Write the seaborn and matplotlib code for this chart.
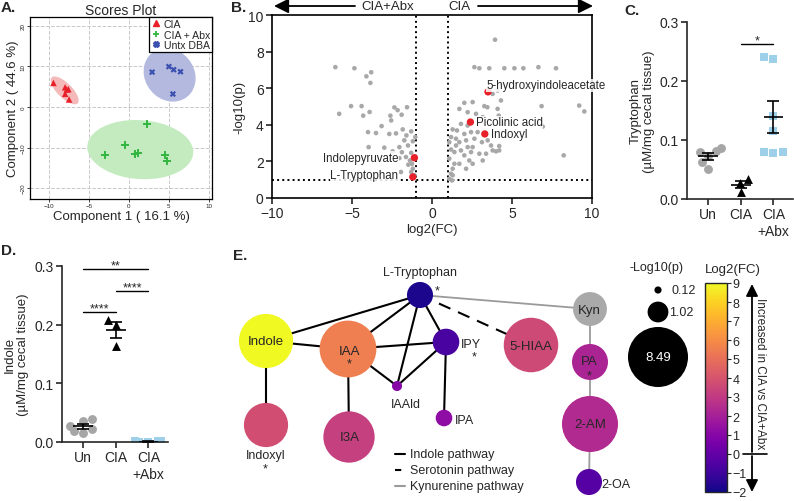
import numpy as np
import pandas as pd
import matplotlib
matplotlib.use("Agg")
import matplotlib.pyplot as plt
import seaborn as sns
from matplotlib.patches import Circle, Ellipse
from matplotlib.lines import Line2D
from matplotlib.cm import ScalarMappable
from matplotlib.colors import Normalize

# ---------------- data ----------------
# A. PCA scores
cia_x = [-9.46, -8.0, -7.79, -8.0, -7.5, -7.6]
cia_y = [5.93, 4.86, 4.3, 3.24, 1.85, 4.4]
abx_x = [2.2, -0.46, -2.96, 0.75, 1.17, 4.5, 4.7]
abx_y = [-4.28, -9.4, -11.8, -11.6, -11.3, -11.8, -13.4]
dba_x = [5.0, 5.6, 6.45, 2.9, 5.5]
dba_y = [9.96, 9.2, 8.7, 8.6, 3.2]

# B. volcano
vol_fc = [-6.04, -4.85, -4.1, -3.8, -3.85, -5.06, -4.4, -5.8, -4.3, -3.9, -2.35, -2.15,
          -2.6, -1.56, -1.9, -2.55, -3.15, -4.0, -3.5, -2.67, -2.25, -1.83, -1.6, -1.3,
          -1.04, -1.73, -1.2, -3.96, -2.98, -2.04, -1.5, -2.46, -1.88, -1.3, -1.63, -2.04,
          -1.38, -1.48, -1.25, -1.2, -1.3, -1.94, -1.1,
          3.94, 2.65, 2.96, 3.58, 4.52, 5.15, 5.71, 6.65, 7.75, 3.79, 4.1, 4.31, 3.27,
          3.46, 2.54, 2.02, 1.71, 2.23, 2.75, 3.17, 4.1, 4.17, 4.42, 6.85, 9.2, 9.52,
          6.92, 1.29, 1.19, 1.56, 2.02, 1.71, 2.13, 2.44, 2.85, 2.65, 3.12, 3.48, 3.69,
          4.2, 4.2, 3.79, 3.38, 2.96, 2.44, 2.23, 1.5, 1.08, 1.19, 1.4, 1.81, 2.02, 2.33,
          2.54, 3.17, 2.13, 1.4, 1.08, 1.29, 1.71, 1.19, 1.29, 1.08, 1.25, 8.23, 4.0,
          2.54, 1.5, 2.23, 1.81]
vol_p = [7.15, 7.09, 6.65, 6.87, 6.29, 5.02, 5.02, 4.6, 4.5, 4.7, 4.95, 4.8,
         4.5, 4.96, 4.55, 4.24, 3.93, 3.6, 3.55, 3.5, 3.53, 3.75, 3.42, 3.64,
         3.33, 3.15, 3.1, 2.78, 2.75, 2.78, 2.87, 2.55, 2.5, 2.47, 2.24, 2.18,
         2.05, 1.82, 1.87, 1.6, 1.42, 1.42, 1.24,
         8.65, 7.15, 7.09, 7.09, 7.09, 7.09, 7.09, 7.15, 7.09, 5.69, 5.87, 5.33, 5.02,
         4.96, 5.24, 5.2, 4.87, 4.69, 4.6, 4.42, 4.87, 4.5, 4.05, 5.02, 5.05, 4.73,
         3.9, 3.75, 3.33, 3.69, 3.5, 3.05, 3.15, 3.6, 3.6, 3.24, 3.05, 3.15, 2.87,
         2.84, 2.6, 2.6, 2.42, 2.42, 2.51, 2.78, 2.87, 3.05, 2.65, 2.51, 2.6, 2.33, 2.05,
         1.87, 2.05, 1.6, 1.87, 2.15, 1.6, 1.87, 1.33, 1.24, 1.05, 0.96, 2.33, 2.55,
         2.78, 3.24, 3.96, 4.05]
hl_names = ["L-Tryptophan", "Indolepyruvate", "Picolinic acid", "Indoxyl", "5-hydroxyindoleacetate"]
hl_fc = [-1.2, -1.1, 2.4, 3.3, 3.5]
hl_p = [1.15, 2.2, 4.15, 3.5, 5.8]

# C. tryptophan / D. indole (uM/mg cecal tissue)
groups = ["Un", "CIA", "CIA\n+Abx"]
trp_un = [0.086, 0.082, 0.079, 0.073, 0.062, 0.051]
trp_cia = [0.034, 0.027, 0.012]
trp_abx = [0.240, 0.238, 0.140, 0.115, 0.080, 0.080, 0.078]
ind_un = [0.040, 0.036, 0.027, 0.022, 0.016, 0.019]
ind_cia = [0.208, 0.200, 0.163]
ind_abx = [0.001, 0.0, 0.002, 0.001, 0.0, 0.001]

# E. network
net_nodes = ["L-Tryptophan", "Indole", "IAA", "IPY", "5-HIAA", "IAAld", "IPA",
             "Indoxyl", "I3A", "Kyn", "PA", "2-AM", "2-OA"]
net_log2fc = [-1.7, 9.0, 5.5, -0.7, 3.6, 1.0, 1.3, 3.8, 3.2, np.nan, 2.2, 2.4, -0.35]
net_neglogp = [1.6, 6.9, 7.6, 1.67, 7.0, 0.24, 0.65, 4.6, 6.2, 2.7, 3.05, 7.4, 1.6]
edges_indole = [("L-Tryptophan", "Indole"), ("L-Tryptophan", "IAA"), ("L-Tryptophan", "IAAld"),
                ("L-Tryptophan", "IPY"), ("Indole", "IAA"), ("Indole", "Indoxyl"),
                ("IAA", "IPY"), ("IAA", "IAAld"), ("IAA", "I3A"), ("IPY", "IAAld"),
                ("IPY", "IPA")]
edges_sero = [("L-Tryptophan", "5-HIAA")]
edges_kyn = [("L-Tryptophan", "Kyn"), ("Kyn", "PA"), ("PA", "2-AM"), ("2-AM", "2-OA")]
size_legend = [0.12, 1.02, 8.49]

# ---------------- figure ----------------
sns.set_style("ticks")
plt.rcParams["font.family"] = ["Liberation Sans", "DejaVu Sans"]
W, H = 794, 502
fig = plt.figure(figsize=(W / 100, H / 100), dpi=100)


def px_axes(l, t, r, b):
    return fig.add_axes([l / W, 1 - b / H, (r - l) / W, (b - t) / H])


# ---- A. Scores plot
axA = px_axes(30, 18, 212, 200)


def conf_ellipse(ax, xs, ys, color):
    cov = np.cov(xs, ys)
    vals, vecs = np.linalg.eigh(cov)
    order = vals.argsort()[::-1]
    vals, vecs = vals[order], vecs[:, order]
    angle = np.degrees(np.arctan2(vecs[1, 0], vecs[0, 0]))
    w, h = 2 * np.sqrt(vals * 5.991)
    ax.add_patch(Ellipse((np.mean(xs), np.mean(ys)), w, h, angle=angle,
                         facecolor=color, edgecolor="none", zorder=1))


conf_ellipse(axA, cia_x, cia_y, "#f6b9b9")
conf_ellipse(axA, abx_x, abx_y, "#c4ebc0")
conf_ellipse(axA, dba_x, dba_y, "#b4badf")
sns.scatterplot(x=cia_x, y=cia_y, marker="^", color="#e8202a", s=22, edgecolor="none", ax=axA, zorder=3)
sns.scatterplot(x=abx_x, y=abx_y, marker="+", color="#33b540", s=30, linewidth=1.4, ax=axA, zorder=3)
sns.scatterplot(x=dba_x, y=dba_y, marker="X", color="#3b4fb0", s=20, edgecolor="none", ax=axA, zorder=3)
axA.set_xlim(-12.4, 10.4)
axA.set_ylim(-22.7, 22.2)
axA.set_xticks([-10, -5, 0, 5, 10])
axA.set_yticks([-20, -10, 0, 10, 20])
axA.grid(True, ls="--", color="#c8c8c8", lw=0.7)
axA.tick_params(labelsize=4.5, length=2, width=0.6, pad=1)
for lab in axA.get_yticklabels():
    lab.set_rotation(90)
    lab.set_va("center")
for s in axA.spines.values():
    s.set_linewidth(0.9)
    s.set_color("black")
axA.set_title("Scores Plot", fontsize=10, pad=1.5)
axA.set_xlabel("Component 1 ( 16.1 %)", fontsize=9.5, labelpad=1)
axA.set_ylabel("Component 2 ( 44.6 %)", fontsize=9.5, labelpad=1)
handles = [Line2D([], [], marker="^", color="#e8202a", ls="none", ms=4),
           Line2D([], [], marker="+", color="#33b540", ls="none", ms=5, mew=1.3),
           Line2D([], [], marker="X", color="#3b4fb0", ls="none", ms=4)]
lg = axA.legend(handles, ["CIA", "CIA + Abx", "Untx DBA"], loc="upper right", fontsize=7.6,
                frameon=True, fancybox=False, edgecolor="black", borderaxespad=0,
                handletextpad=0.2, borderpad=0.2, labelspacing=0.05, handlelength=1)
lg.get_frame().set_linewidth(0.9)
lg.get_frame().set_alpha(1)

# ---- B. Volcano
axB = px_axes(272, 16, 592, 199)
sns.scatterplot(x=vol_fc, y=vol_p, color="#a8a8a8", s=11, edgecolor="none", ax=axB, zorder=2)
sns.scatterplot(x=hl_fc, y=hl_p, color="#e8202a", s=28, edgecolor="none", ax=axB, zorder=3)
for xv in (-1, 1):
    axB.axvline(xv, ls=":", color="black", lw=1.4, zorder=1)
axB.axhline(1, ls=":", color="black", lw=1.4, zorder=1)
axB.set_xlim(-10, 10)
axB.set_ylim(0, 10)
axB.set_xticks([-10, -5, 0, 5, 10])
axB.set_yticks([0, 2, 4, 6, 8, 10])
axB.tick_params(labelsize=10, length=4, width=1.2, pad=2)
for s in axB.spines.values():
    s.set_linewidth(1.2)
    s.set_color("black")
axB.set_xlabel("log2(FC)", fontsize=9.5, labelpad=2)
axB.set_ylabel("-log10(p)", fontsize=9.5, labelpad=2)
label_style = {"L-Tryptophan": (-2.1, 1.27, "right"), "Indolepyruvate": (-2.1, 2.2, "right"),
               "Picolinic acid": (2.75, 4.15, "left"), "Indoxyl": (3.7, 3.5, "left"),
               "5-hydroxyindoleacetate": (3.4, 6.15, "left")}
for name in hl_names:
    tx, ty, ha = label_style[name]
    axB.text(tx, ty, name, fontsize=8.3, ha=ha, va="center", clip_on=False,
             bbox=dict(facecolor="white", edgecolor="none", pad=0.3, alpha=0.85), zorder=4)


# ---- C & D dot plots
def dot_panel(ax, vals, ylabel, ylpad):
    df = pd.concat([pd.DataFrame({"group": g, "val": v}) for g, v in zip(groups, vals)])
    styles = [("o", "#a6a6a6"), ("^", "black"), ("s", "#9fd0ea")]
    for g, (m, c) in zip(groups, styles):
        sns.swarmplot(data=df[df.group == g], x="group", y="val", order=groups,
                      marker=m, color=c, size=6.4, ax=ax, zorder=2, warn_thresh=1)
    for i, v in enumerate(vals):
        mean = np.mean(v)
        sem = np.std(v, ddof=1) / np.sqrt(len(v))
        ax.hlines(mean, i - 0.3, i + 0.3, color="black", lw=1.2, zorder=3)
        ax.errorbar(i, mean, yerr=sem, color="black", lw=1.2, capsize=4, capthick=1.2, zorder=3)
    sns.despine(ax=ax)
    for s in ax.spines.values():
        s.set_linewidth(1.2)
    ax.set_xlim(-0.65, 2.6)
    ax.set_ylim(0, 0.3)
    ax.set_yticks([0, 0.1, 0.2, 0.3])
    ax.set_yticklabels(["0.0", "0.1", "0.2", "0.3"])
    ax.set_xticks(range(3))
    ax.set_xticklabels(groups)
    ax.tick_params(labelsize=10, length=4, width=1.2, pad=2)
    ax.set_xlabel("")
    ax.set_ylabel(ylabel, fontsize=9.5, labelpad=ylpad, linespacing=1.15)


def sig_bar(ax, x1, x2, y, txt):
    ax.plot([x1, x2], [y, y], color="black", lw=1.0, clip_on=False)
    ax.text((x1 + x2) / 2, y - 0.004, txt, ha="center", va="bottom", fontsize=9, clip_on=False)


axC = px_axes(687, 23, 793, 200)
dot_panel(axC, [trp_un, trp_cia, trp_abx], "Tryptophan\n(µM/mg cecal tissue)", 3)
sig_bar(axC, 1, 2, 0.262, "*")

axD = px_axes(62, 267, 168, 443)
dot_panel(axD, [ind_un, ind_cia, ind_abx], "Indole\n(µM/mg cecal tissue)", 4)
sig_bar(axD, 0, 1, 0.222, "****")
sig_bar(axD, 1, 2, 0.258, "****")
sig_bar(axD, 0, 2, 0.295, "**")

# ---- overlay in pixel coordinates (E + annotations)
ov = fig.add_axes([0, 0, 1, 1])
ov.set_xlim(0, W)
ov.set_ylim(H, 0)
ov.axis("off")

# volcano direction arrows
arrow = dict(arrowstyle="-|>", color="black", lw=1.3, mutation_scale=22, shrinkA=0, shrinkB=0)
ov.annotate("", xy=(274, 7), xytext=(355, 7), arrowprops=arrow)
ov.annotate("", xy=(593, 7), xytext=(478, 7), arrowprops=arrow)
ov.text(388, 7.5, "CIA+Abx", fontsize=9.5, ha="center", va="center",
        bbox=dict(facecolor="white", edgecolor="none", pad=0.5))
ov.text(459, 7.5, "CIA", fontsize=9.5, ha="center", va="center",
        bbox=dict(facecolor="white", edgecolor="none", pad=0.5))

# panel letters
for lt, (x, y) in {"A.": (1, 8), "B.": (231, 8), "C.": (624, 11), "D.": (1, 251), "E.": (233, 256)}.items():
    ov.text(x, y, lt, fontsize=11, fontweight="bold", ha="left", va="center")

# network
pos = {"L-Tryptophan": (420, 296), "Indole": (266, 342), "IAA": (348, 350), "IPY": (446, 343),
       "5-HIAA": (531, 346), "IAAld": (397, 387), "IPA": (444, 419), "Indoxyl": (266, 426),
       "I3A": (349, 438), "Kyn": (590, 310), "PA": (590, 363), "2-AM": (590, 425), "2-OA": (589, 483)}
cmap = plt.get_cmap("plasma")
norm = Normalize(-2, 9)
rscale = 10.3

for a, b in edges_indole:
    ov.plot(*zip(pos[a], pos[b]), color="black", lw=1.5, zorder=1)
for a, b in edges_sero:
    ov.plot(*zip(pos[a], pos[b]), color="black", lw=1.5, ls=(0, (6, 4)), zorder=1)
for a, b in edges_kyn:
    ov.plot(*zip(pos[a], pos[b]), color="#9a9a9a", lw=1.3, zorder=1)

for name, fc, p in zip(net_nodes, net_log2fc, net_neglogp):
    col = "#a9a9a9" if np.isnan(fc) else cmap(norm(fc))
    ov.add_patch(Circle(pos[name], rscale * np.sqrt(p), facecolor=col, edgecolor="none", zorder=2))

inside = {"Indole": (266, 342), "IAA": (349, 352), "5-HIAA": (531, 347), "I3A": (350, 438),
          "Kyn": (589, 311), "PA": (589, 362), "2-AM": (590, 425)}
for name, (x, y) in inside.items():
    ov.text(x, y, name, fontsize=9.5, ha="center", va="center", zorder=3)
outside = [("L-Tryptophan", 420, 273, "center"), ("IPY", 461, 345, "left"),
           ("IAAld", 406, 405, "center"), ("IPA", 455, 421, "left"),
           ("Indoxyl", 266, 456, "center"), ("2-OA", 601, 485, "left")]
for name, x, y, ha in outside:
    ov.text(x, y, name, fontsize=9, ha=ha, va="center", zorder=3)
for x, y in [(437, 291), (349, 364), (474, 357), (265, 469), (589, 376)]:
    ov.text(x, y, "*", fontsize=9, ha="center", va="center", zorder=3)

# pathway legend
for i, (lbl, ls, c) in enumerate([("Indole pathway", "-", "black"),
                                  ("Serotonin pathway", (0, (3, 2)), "black"),
                                  ("Kynurenine pathway", "-", "#9a9a9a")]):
    y = 455 + i * 16
    ov.plot([395, 405], [y, y], color=c, ls=ls, lw=1.5)
    ov.text(410, y, lbl, fontsize=9, ha="left", va="center")

# size legend
ov.text(657, 268, "-Log10(p)", fontsize=9, ha="center", va="center")
for v, y in zip(size_legend, [291, 313, 358]):
    ov.add_patch(Circle((658, y), rscale * np.sqrt(v), facecolor="black", edgecolor="none"))
ov.text(671, 291, f"{size_legend[0]:.2f}", fontsize=9, ha="left", va="center")
ov.text(669, 313, f"{size_legend[1]:.2f}", fontsize=9, ha="left", va="center")
ov.text(658, 358, f"{size_legend[2]:.2f}", fontsize=9.5, ha="center", va="center", color="white")

# colorbar
cax = px_axes(705, 284, 727, 493)
cb = fig.colorbar(ScalarMappable(norm=norm, cmap=cmap), cax=cax)
cb.set_ticks(range(-2, 10))
cb.ax.tick_params(labelsize=9, length=3, width=0.8, pad=1)
cb.outline.set_linewidth(1)
ov.text(733, 270, "Log2(FC)", fontsize=9.5, ha="center", va="center")
arrow2 = dict(arrowstyle="-|>", color="black", lw=1.3, mutation_scale=18, shrinkA=0, shrinkB=0)
ov.annotate("", xy=(752, 285), xytext=(752, 453), arrowprops=arrow2)
ov.annotate("", xy=(752, 493), xytext=(752, 457), arrowprops=arrow2)
ov.plot([743, 767], [455, 455], color="black", lw=1.2)
ov.text(760, 374, "Increased in CIA vs CIA+Abx", fontsize=8.5, rotation=-90,
        ha="center", va="center")

fig.savefig("out.png", dpi=100)
